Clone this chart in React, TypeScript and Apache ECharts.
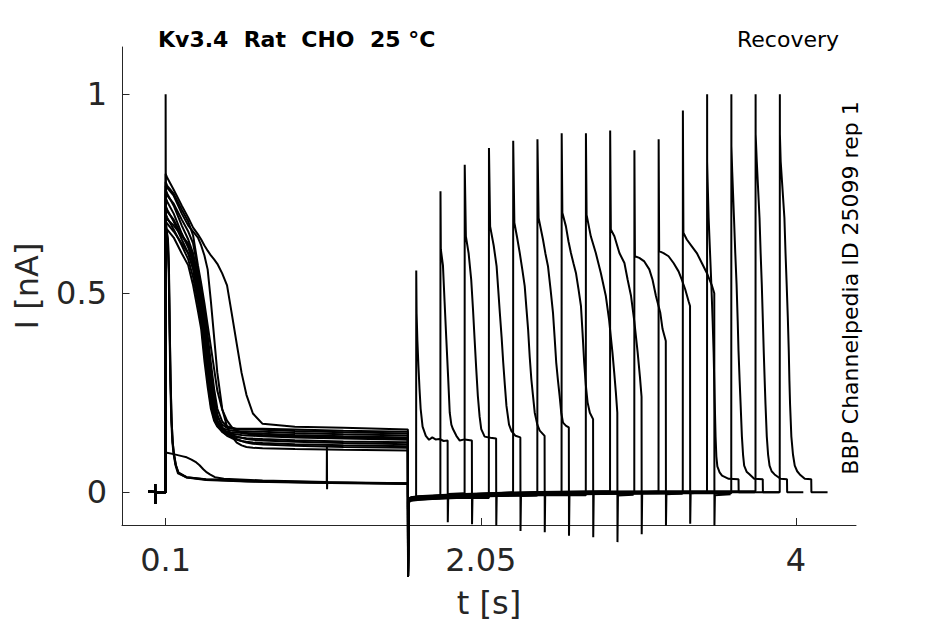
import React, { useEffect, useRef } from "react";
import * as echarts from "echarts";

// ---------- axes ----------
const xTicks = [0.1, 2.05, 4];
const yTicks = [0, 0.5, 1];
const xRange = [-0.17, 4.372];
const yRange = [-0.082, 1.1185];

// ---------- protocol (s) ----------
const stepOn = 0.1;
const stepOff = 1.6;
const offDip = -0.212;
const testLength = 0.196;
const sweepTail = 0.1;

// ---------- baseline pieces [t (s), I (nA)] ----------
const preBaseline = [
  [-0.008, 0.002], [0.034, 0.001], [0.035, 0.021], [0.036, -0.029], [0.037, 0.0], [stepOn, 0.0],
];
const gapBaseline = [
  [1.603, -0.02], [1.62, -0.016], [1.66, -0.014], [1.75, -0.012], [1.9, -0.009],
  [2.1, -0.006], [2.4, -0.003], [2.8, -0.001], [3.2, 0.0], [4.2, 0.001],
];

// ---------- conditioning pulse, bundle traces (shared time grid) ----------
const preTimes = [0.1, 0.11, 0.15, 0.2, 0.24, 0.27, 0.3, 0.32, 0.34, 0.36, 0.38, 0.4, 0.42, 0.45, 0.48, 0.51, 0.54, 0.57, 0.6, 0.64, 0.7, 0.9, 1.2, 1.599];
const preC1 = [0.66, 0.66, 0.64, 0.6, 0.57, 0.52, 0.455, 0.41, 0.33, 0.265, 0.21, 0.18, 0.165, 0.152, 0.145, 0.141, 0.139, 0.137, 0.136, 0.135, 0.134, 0.131, 0.128, 0.126];
const preC2 = [0.7, 0.69, 0.66, 0.62, 0.585, 0.54, 0.475, 0.425, 0.35, 0.28, 0.22, 0.185, 0.167, 0.156, 0.15, 0.147, 0.145, 0.144, 0.143, 0.142, 0.141, 0.138, 0.135, 0.132];
const preC3 = [0.72, 0.71, 0.68, 0.635, 0.6, 0.56, 0.49, 0.44, 0.37, 0.3, 0.235, 0.195, 0.172, 0.158, 0.152, 0.15, 0.15, 0.149, 0.149, 0.148, 0.147, 0.144, 0.141, 0.138];
const preC4 = [0.68, 0.675, 0.655, 0.625, 0.6, 0.565, 0.5, 0.455, 0.385, 0.31, 0.245, 0.2, 0.172, 0.152, 0.142, 0.136, 0.132, 0.129, 0.127, 0.125, 0.124, 0.121, 0.118, 0.116];
const preC5 = [0.74, 0.73, 0.7, 0.65, 0.615, 0.575, 0.515, 0.465, 0.4, 0.325, 0.255, 0.205, 0.178, 0.162, 0.157, 0.155, 0.154, 0.153, 0.153, 0.152, 0.152, 0.149, 0.146, 0.143];
const preC6 = [0.71, 0.705, 0.685, 0.645, 0.62, 0.585, 0.53, 0.48, 0.415, 0.345, 0.27, 0.215, 0.18, 0.16, 0.15, 0.144, 0.14, 0.137, 0.134, 0.132, 0.13, 0.127, 0.124, 0.121];
const preC7 = [0.76, 0.75, 0.72, 0.67, 0.635, 0.6, 0.54, 0.495, 0.43, 0.36, 0.285, 0.225, 0.19, 0.17, 0.162, 0.16, 0.159, 0.158, 0.158, 0.158, 0.157, 0.154, 0.151, 0.148];
const preC8 = [0.69, 0.685, 0.67, 0.645, 0.625, 0.595, 0.55, 0.51, 0.445, 0.375, 0.3, 0.24, 0.195, 0.163, 0.148, 0.14, 0.134, 0.129, 0.125, 0.122, 0.12, 0.117, 0.114, 0.112];
const preC9 = [0.75, 0.745, 0.725, 0.685, 0.655, 0.625, 0.56, 0.515, 0.46, 0.395, 0.325, 0.26, 0.21, 0.178, 0.166, 0.162, 0.16, 0.16, 0.16, 0.16, 0.16, 0.158, 0.155, 0.152];
const preC10 = [0.78, 0.77, 0.75, 0.71, 0.68, 0.645, 0.57, 0.525, 0.475, 0.42, 0.365, 0.31, 0.255, 0.208, 0.18, 0.163, 0.155, 0.15, 0.147, 0.145, 0.144, 0.141, 0.138, 0.135];
const preLateA = [0.77, 0.765, 0.745, 0.7, 0.67, 0.655, 0.64, 0.62, 0.595, 0.56, 0.48, 0.39, 0.3, 0.21, 0.165, 0.14, 0.125, 0.118, 0.114, 0.112, 0.111, 0.109, 0.107, 0.105];
const preLateB = [0.8, 0.79, 0.76, 0.72, 0.69, 0.665, 0.648, 0.635, 0.62, 0.607, 0.595, 0.585, 0.574, 0.55, 0.52, 0.447, 0.373, 0.3, 0.245, 0.198, 0.172, 0.165, 0.162, 0.158];

// ---------- conditioning pulse, fast and small traces [t, I] ----------
const preFastA = [[0.1, 1.0], [0.1015, 0.66], [0.108, 0.65], [0.114, 0.635], [0.12, 0.56], [0.125, 0.42], [0.13, 0.29], [0.136, 0.19], [0.143, 0.13], [0.15, 0.1], [0.162, 0.07], [0.178, 0.05], [0.23, 0.038], [0.35, 0.032], [0.6, 0.028], [1.0, 0.025], [1.599, 0.022]];
const preFastB = [[0.1, 0.69], [0.108, 0.655], [0.115, 0.63], [0.121, 0.55], [0.126, 0.4], [0.131, 0.28], [0.137, 0.18], [0.144, 0.125], [0.152, 0.095], [0.164, 0.068], [0.18, 0.049], [0.23, 0.037], [0.35, 0.031], [0.6, 0.027], [1.0, 0.024], [1.599, 0.021]];
const preFastC = [[0.1, 0.67], [0.107, 0.645], [0.113, 0.625], [0.119, 0.56], [0.124, 0.41], [0.129, 0.28], [0.135, 0.18], [0.142, 0.125], [0.149, 0.097], [0.161, 0.068], [0.176, 0.048], [0.23, 0.038], [0.35, 0.033], [0.6, 0.029], [1.0, 0.026], [1.599, 0.023]];
const preSmall = [[0.1, 0.1], [0.15, 0.096], [0.2, 0.091], [0.23, 0.088], [0.26, 0.082], [0.29, 0.075], [0.31, 0.068], [0.333, 0.058], [0.355, 0.05], [0.374, 0.045], [0.405, 0.038], [0.46, 0.034], [0.7, 0.03], [1.097, 0.026], [1.098, 0.117], [1.099, 0.008], [1.1, 0.025], [1.599, 0.022]];

// ---------- test pulses ----------
const testStarts = [1.65, 1.8, 1.95, 2.1, 2.25, 2.4, 2.55, 2.7, 2.85, 3.0, 3.15, 3.3, 3.45, 3.6, 3.75, 3.9];
const testPeaks = [0.557, 0.756, 0.823, 0.865, 0.883, 0.887, 0.902, 0.902, 0.909, 0.859, 0.887, 0.959, 1.0, 1.0, 1.0, 1.0];
const tailDips = [-0.075, -0.08, -0.083, -0.097, -0.1, -0.109, -0.113, -0.125, -0.105, -0.083, -0.079, -0.083, null, null, null, null];
const baseShift = [0, -0.003, 0.002, -0.005, 0.003, -0.002, 0.001, -0.004, 0.004, -0.001, 0.002, -0.003, 0.001, -0.002, 0.003, 0];

// decay after the test peak: [ms after test onset, I]
const decay1 = [[3, 0.45], [8, 0.38], [14, 0.32], [21, 0.26], [28, 0.21], [40, 0.165], [60, 0.142], [80, 0.132], [100, 0.138], [120, 0.133], [145, 0.134], [170, 0.129], [195, 0.13]];
const decay2 = [[3, 0.61], [16, 0.57], [26, 0.48], [37, 0.384], [48, 0.29], [58, 0.2], [68, 0.17], [78, 0.159], [99, 0.142], [120, 0.13], [150, 0.133], [195, 0.13]];
const decay3 = [[8, 0.643], [25, 0.6], [41, 0.534], [52, 0.46], [62, 0.384], [72, 0.31], [82, 0.242], [93, 0.19], [103, 0.159], [124, 0.14], [160, 0.137], [195, 0.135]];
const decay4 = [[8, 0.668], [30, 0.62], [48, 0.568], [58, 0.51], [68, 0.451], [79, 0.39], [89, 0.326], [99, 0.27], [109, 0.217], [125, 0.17], [140, 0.154], [165, 0.142], [195, 0.138]];
const decay5 = [[8, 0.677], [25, 0.64], [41, 0.602], [57, 0.56], [72, 0.518], [83, 0.46], [93, 0.409], [103, 0.34], [113, 0.284], [124, 0.24], [134, 0.2], [150, 0.17], [165, 0.155], [195, 0.142]];
const decay6 = [[8, 0.689], [35, 0.635], [50, 0.6], [66, 0.568], [82, 0.51], [97, 0.451], [107, 0.39], [117, 0.326], [128, 0.28], [138, 0.242], [148, 0.2], [159, 0.175], [178, 0.167], [195, 0.163]];
const decay7 = [[5, 0.702], [27, 0.668], [43, 0.63], [58, 0.601], [74, 0.575], [89, 0.551], [105, 0.51], [120, 0.468], [130, 0.4], [140, 0.326], [150, 0.27], [161, 0.226], [175, 0.2], [195, 0.184]];
const decay8 = [[5, 0.697], [31, 0.643], [62, 0.601], [93, 0.551], [124, 0.493], [144, 0.434], [155, 0.39], [165, 0.351], [176, 0.3], [186, 0.251], [195, 0.2]];
const decay9 = [[5, 0.66], [27, 0.643], [58, 0.601], [89, 0.576], [109, 0.534], [130, 0.493], [150, 0.43], [171, 0.351], [185, 0.29], [195, 0.24]];
const decay10 = [[4, 0.593], [31, 0.589], [62, 0.58], [93, 0.56], [113, 0.534], [134, 0.493], [161, 0.451], [175, 0.41], [195, 0.38]];
const decay11 = [[4, 0.606], [31, 0.601], [62, 0.593], [93, 0.576], [124, 0.555], [144, 0.534], [165, 0.51], [186, 0.48], [195, 0.468]];
const decay12 = [[4, 0.652], [25, 0.635], [56, 0.618], [87, 0.601], [118, 0.576], [149, 0.551], [165, 0.535], [180, 0.52], [195, 0.5]];
const decay13 = [[1, 0.83], [4, 0.78], [10, 0.69], [19, 0.6], [27, 0.52], [35, 0.43], [41, 0.35], [47, 0.24], [53, 0.14], [58, 0.09], [64, 0.065], [78, 0.05], [93, 0.042], [134, 0.034], [195, 0.033]];
const decay14 = [[1, 0.87], [6, 0.806], [17, 0.689], [25, 0.6], [33, 0.522], [40, 0.43], [45, 0.355], [52, 0.28], [58, 0.221], [66, 0.14], [73, 0.095], [80, 0.067], [95, 0.052], [111, 0.046], [142, 0.034], [195, 0.033]];
const decay15 = [[1, 0.9], [8, 0.831], [25, 0.689], [32, 0.6], [39, 0.522], [45, 0.44], [51, 0.355], [57, 0.28], [62, 0.221], [70, 0.14], [78, 0.095], [87, 0.067], [100, 0.053], [118, 0.045], [155, 0.034], [195, 0.033]];
const decay16 = [[1, 0.9], [6, 0.831], [29, 0.689], [36, 0.6], [43, 0.522], [50, 0.44], [56, 0.355], [60, 0.28], [64, 0.221], [72, 0.14], [82, 0.095], [93, 0.067], [108, 0.053], [124, 0.045], [155, 0.034], [195, 0.033]];

// ---------- texts ----------
const titleText = "Kv3.4  Rat  CHO  25 °C";
const protocolText = "Recovery";
const sourceText = "BBP Channelpedia ID 25099 rep 1";
const xName = "t [s]";
const yName = "I [nA]";

// ---------- assembly ----------
const gridPre = (vals: number[]) => preTimes.map((t, i) => [t, vals[i]]);
const prepulses = [
  gridPre(preC1), gridPre(preC2), gridPre(preC3), gridPre(preC4), gridPre(preC5),
  gridPre(preC6), gridPre(preC7), gridPre(preC8), gridPre(preC9), gridPre(preC10),
  gridPre(preLateA), gridPre(preLateB), preFastA, preFastB, preFastC, preSmall,
];
const decays = [decay1, decay2, decay3, decay4, decay5, decay6, decay7, decay8, decay9, decay10, decay11, decay12, decay13, decay14, decay15, decay16];

function buildTrace(k: number): number[][] {
  const pts: number[][] = [];
  preBaseline.forEach((p) => pts.push([p[0], p[1]]));
  prepulses[k].forEach((p) => pts.push([p[0], p[1]]));
  pts.push([stepOff, offDip]);
  const start = testStarts[k];
  let last = 0;
  gapBaseline.forEach((p) => {
    if (p[0] < start) {
      pts.push([p[0], p[1] + baseShift[k]]);
      last = p[1] + baseShift[k];
    }
  });
  pts.push([start, last]);
  pts.push([start + 0.0008, testPeaks[k]]);
  decays[k].forEach((p) => pts.push([start + p[0] / 1000, p[1]]));
  const end = start + testLength;
  const dip = tailDips[k];
  if (dip !== null) {
    pts.push([end, dip]);
    pts.push([end + 0.003, -0.004 + baseShift[k]]);
    pts.push([end + sweepTail, -0.002 + baseShift[k]]);
  } else {
    pts.push([end, 0]);
    pts.push([end + sweepTail, 0]);
  }
  return pts;
}

const FONT = "DejaVu Sans";
const AXIS_COLOR = "#262626";

export default function App() {
  const ref = useRef<HTMLDivElement>(null);
  useEffect(() => {
    if (!ref.current) return;
    const chart = echarts.init(ref.current, undefined, { renderer: "svg" });
    const series = testStarts.map((_, k) => ({
      type: "line",
      data: buildTrace(k),
      showSymbol: false,
      symbol: "none",
      clip: false,
      silent: true,
      lineStyle: { color: "#000", width: 2 },
    }));
    chart.setOption({
      animation: false,
      backgroundColor: "#fff",
      grid: { left: 122, right: 89, top: 47, bottom: 98, containLabel: false },
      xAxis: {
        type: "value",
        min: xRange[0],
        max: xRange[1],
        name: xName,
        nameLocation: "middle",
        nameGap: 62,
        nameTextStyle: { fontFamily: FONT, fontSize: 32, color: AXIS_COLOR },
        axisLine: { show: true, onZero: false, lineStyle: { color: AXIS_COLOR, width: 1 } },
        axisTick: { show: true, inside: true, length: 7, customValues: xTicks, lineStyle: { color: AXIS_COLOR } },
        axisLabel: {
          customValues: xTicks,
          formatter: (v: number) => String(v),
          fontFamily: FONT,
          fontSize: 32,
          color: AXIS_COLOR,
          margin: 19,
        },
        splitLine: { show: false },
      },
      yAxis: {
        type: "value",
        min: yRange[0],
        max: yRange[1],
        name: yName,
        nameLocation: "middle",
        nameGap: 79,
        nameTextStyle: { fontFamily: FONT, fontSize: 32, color: AXIS_COLOR },
        axisLine: { show: true, onZero: false, lineStyle: { color: AXIS_COLOR, width: 1 } },
        axisTick: { show: true, inside: true, length: 7.5, customValues: yTicks, lineStyle: { color: AXIS_COLOR } },
        axisLabel: {
          customValues: yTicks,
          formatter: (v: number) => String(v),
          fontFamily: FONT,
          fontSize: 32,
          color: AXIS_COLOR,
          margin: 15,
        },
        splitLine: { show: false },
      },
      graphic: [
        {
          type: "text",
          x: 158,
          y: 39,
          style: { text: titleText, font: `bold 22px "${FONT}"`, fill: "#000", textAlign: "left", textVerticalAlign: "middle", align: "left", verticalAlign: "middle" },
        },
        {
          type: "text",
          x: 788,
          y: 39,
          style: { text: protocolText, font: `22px "${FONT}"`, fill: "#000", textAlign: "center", textVerticalAlign: "middle", align: "center", verticalAlign: "middle" },
        },
        {
          type: "text",
          x: 850.5,
          y: 288,
          rotation: Math.PI / 2,
          style: { text: sourceText, font: `22px "${FONT}"`, fill: "#000", textAlign: "center", textVerticalAlign: "middle", align: "center", verticalAlign: "middle" },
        },
      ],
      series,
    });
    return () => chart.dispose();
  }, []);
  return <div ref={ref} style={{ position: "absolute", left: 0, top: 0, width: 945, height: 624 }} />;
}
